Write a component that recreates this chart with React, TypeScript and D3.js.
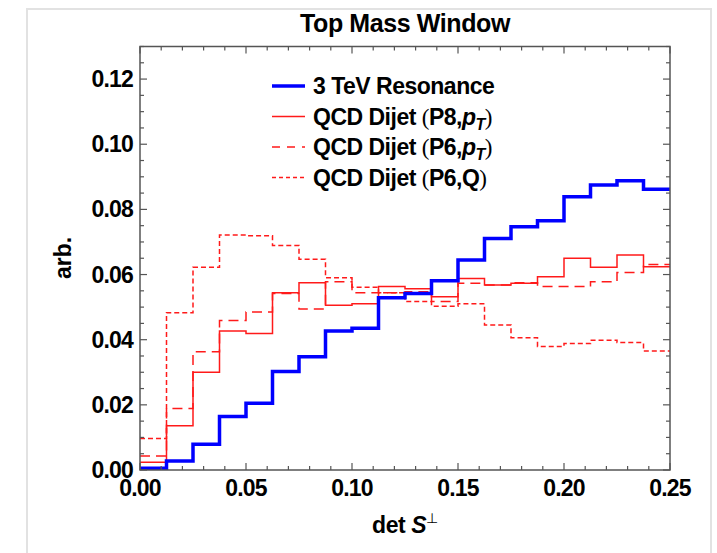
import React from "react";
import * as d3 from "d3";

const binEdges = d3.range(21).map((i) => i * 0.0125);
const resonance = [0.0005, 0.0028, 0.0079, 0.0164, 0.0205, 0.0302, 0.0348, 0.0427, 0.0435, 0.0529, 0.0542, 0.0581, 0.0645, 0.0711, 0.0747, 0.0765, 0.0839, 0.0875, 0.0888, 0.0862];
const p8pt = [0.0024, 0.0136, 0.0300, 0.0427, 0.0419, 0.0544, 0.0575, 0.0506, 0.0510, 0.0563, 0.0556, 0.0532, 0.0588, 0.0568, 0.0573, 0.0593, 0.0650, 0.0622, 0.0660, 0.0624];
const p6pt = [0.0043, 0.0189, 0.0363, 0.0459, 0.0485, 0.0542, 0.0494, 0.0578, 0.0544, 0.0544, 0.0547, 0.0517, 0.0573, 0.0568, 0.0575, 0.0563, 0.0563, 0.0578, 0.0606, 0.0631];
const p6q = [0.0097, 0.0483, 0.0622, 0.0721, 0.0719, 0.0689, 0.0647, 0.0590, 0.0561, 0.0544, 0.0517, 0.0503, 0.0510, 0.0445, 0.0406, 0.0379, 0.0388, 0.0398, 0.0391, 0.0365];
const xTicks = [0, 0.05, 0.1, 0.15, 0.2, 0.25];
const yTicks = [0, 0.02, 0.04, 0.06, 0.08, 0.1, 0.12];

const W = 717, H = 553;
const L = 140, R = 670, T = 46.5, B = 470;
const FONT = "'Liberation Sans', Arial, Helvetica, sans-serif";

export default function App() {
  const x = d3.scaleLinear().domain([0, 0.25]).range([L, R]);
  const y = d3.scaleLinear().domain([0, 0.13]).range([B, T]);
  const line = d3.line<[number, number]>().x((d) => x(d[0])).y((d) => y(d[1])).curve(d3.curveStepAfter);
  const pts = (vals: number[]): [number, number][] => [
    ...vals.map((v, i) => [binEdges[i], v] as [number, number]),
    [binEdges[20], vals[vals.length - 1]],
  ];
  const series = [
    { vals: p6q, color: "#ff1a1a", w: 1.5, dash: "5,3" },
    { vals: p6pt, color: "#ff1a1a", w: 1.5, dash: "10,6" },
    { vals: p8pt, color: "#ff1a1a", w: 1.5, dash: undefined },
    { vals: resonance, color: "#0000ff", w: 3.5, dash: undefined },
  ];
  const xMinor = d3.range(0, 0.2501, 0.01);
  const yMinor = d3.range(0, 0.1301, 0.005);
  const axisColor = "#555";

  const legendRows = [
    { color: "#0000ff", w: 3.5, dash: undefined, kind: "res" },
    { color: "#ff1a1a", w: 1.5, dash: undefined, kind: "P8" },
    { color: "#ff1a1a", w: 1.5, dash: "8,7", kind: "P6pt" },
    { color: "#ff1a1a", w: 1.5, dash: "4,3", kind: "P6Q" },
  ];
  const legX0 = 272, legX1 = 305, legTx = 313, legY0 = 86, legDy = 30.5;
  const serif = "'Liberation Serif', 'Times New Roman', serif";

  const legendText = (kind: string) => {
    if (kind === "res") return <tspan>3 TeV Resonance</tspan>;
    const inner =
      kind === "P6Q" ? (
        <tspan>P6,Q</tspan>
      ) : (
        <>
          <tspan>{kind === "P8" ? "P8," : "P6,"}</tspan>
          <tspan fontStyle="italic">p</tspan>
          <tspan fontStyle="italic" fontSize={16} dy={5}>T</tspan>
        </>
      );
    return (
      <>
        <tspan>QCD Dijet </tspan>
        <tspan fontFamily={serif} fontWeight="normal">(</tspan>
        {inner}
        <tspan fontFamily={serif} fontWeight="normal" dy={kind === "P6Q" ? 0 : -5}>)</tspan>
      </>
    );
  };

  return (
    <svg width={W} height={H} style={{ position: "absolute", left: 0, top: 0, background: "#fff" }} fontFamily={FONT}>
      <rect x={0} y={0} width={W} height={H} fill="#fff" />
      <path d={`M27,${H + 5} L27,9 L711,9 L711,${H + 5}`} fill="none" stroke="#e2e2e2" strokeWidth={2} />
      <text x={405} y={32} textAnchor="middle" fontSize={25} fontWeight="bold" letterSpacing={-0.4}>Top Mass Window</text>

      {series.map((s, i) => (
        <path key={i} d={line(pts(s.vals)) || ""} fill="none" stroke={s.color} strokeWidth={s.w} strokeDasharray={s.dash} />
      ))}

      {/* frame */}
      <rect x={L} y={T} width={R - L} height={B - T} fill="none" stroke={axisColor} strokeWidth={1.5} />
      {xMinor.map((v, i) => {
        const major = i % 5 === 0;
        const len = major ? 7 : 4;
        return (
          <g key={"xt" + i} stroke={axisColor} strokeWidth={1.2}>
            <line x1={x(v)} x2={x(v)} y1={B} y2={B - len} />
            <line x1={x(v)} x2={x(v)} y1={T} y2={T + len} />
          </g>
        );
      })}
      {yMinor.map((v, i) => {
        const major = i % 4 === 0;
        const len = major ? 7 : 4;
        return (
          <g key={"yt" + i} stroke={axisColor} strokeWidth={1.2}>
            <line x1={L} x2={L + len} y1={y(v)} y2={y(v)} />
            <line x1={R} x2={R - len} y1={y(v)} y2={y(v)} />
          </g>
        );
      })}
      {xTicks.map((v) => (
        <text key={"xl" + v} x={x(v)} y={496} textAnchor="middle" fontSize={23} fontWeight="bold" letterSpacing={-0.8}>
          {v.toFixed(2)}
        </text>
      ))}
      {yTicks.map((v) => (
        <text key={"yl" + v} x={133} y={y(v) + 8} textAnchor="end" fontSize={23} fontWeight="bold" letterSpacing={-0.8}>
          {v.toFixed(2)}
        </text>
      ))}
      <text transform={`translate(71,258) rotate(-90)`} textAnchor="middle" fontSize={23} fontWeight="bold">arb.</text>
      <text x={405} y={533} textAnchor="middle" fontSize={23} fontWeight="bold" letterSpacing={-0.4}>
        <tspan>det </tspan>
        <tspan fontStyle="italic">S</tspan>
        <tspan fontSize={14} dy={-10} fontWeight="normal">⊥</tspan>
      </text>

      {legendRows.map((r, i) => {
        const yy = legY0 + i * legDy;
        return (
          <g key={"lg" + i}>
            <line x1={legX0} x2={legX1} y1={yy} y2={yy} stroke={r.color} strokeWidth={r.w} strokeDasharray={r.dash} />
            <text x={legTx} y={yy + 8} fontSize={23} fontWeight="bold" letterSpacing={-0.5}>
              {legendText(r.kind)}
            </text>
          </g>
        );
      })}
    </svg>
  );
}
